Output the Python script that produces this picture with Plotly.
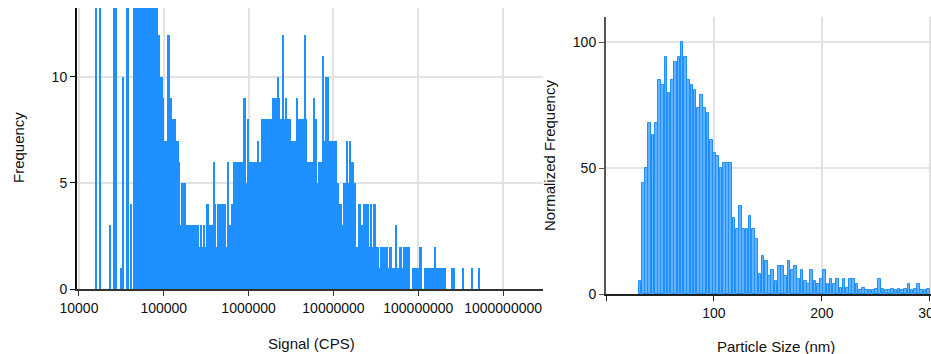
import math
import plotly.graph_objects as go

# ---------------- Left panel: signal histogram (log-binned) ----------------
SIGNAL_LOG_EDGE_START = 4.2        # log10(CPS) of the first bin's left edge
SIGNAL_LOG_BIN_WIDTH = 1 / 85      # bin width in decades
SIGNAL_COUNTS = [
    15, 0, 0, 0, 15, 0, 0, 0, 0, 0,
    0, 0, 0, 0, 3, 0, 0, 0, 15, 0,
    15, 0, 0, 0, 0, 1, 0, 10, 0, 0,
    0, 16, 14, 0, 0, 4, 0, 0, 16, 14,
    0, 18, 15, 3, 16, 14, 3, 20, 16, 17,
    4, 22, 18, 15, 5, 19, 4, 16, 20, 5,
    17, 14, 12, 12, 10, 8, 10, 9, 5, 7,
    7, 4, 12, 12, 9, 9, 8, 2, 8, 8,
    7, 7, 7, 6, 3, 3, 5, 5, 4, 5,
    1, 3, 3, 3, 1, 3, 3, 3, 3, 2,
    3, 2, 3, 2, 2, 3, 2, 2, 3, 2,
    2, 4, 4, 3, 3, 3, 2, 3, 6, 4,
    2, 2, 4, 4, 3, 4, 4, 3, 4, 4,
    2, 2, 6, 3, 3, 3, 4, 4, 6, 6,
    6, 6, 6, 6, 6, 6, 6, 6, 9, 9,
    5, 5, 8, 6, 6, 6, 6, 6, 6, 6,
    4, 6, 7, 6, 6, 6, 8, 8, 8, 7,
    8, 8, 7, 8, 8, 6, 8, 9, 9, 9,
    9, 9, 10, 9, 8, 5, 8, 12, 8, 8,
    9, 8, 8, 7, 8, 7, 7, 7, 7, 7,
    5, 9, 8, 8, 8, 8, 8, 8, 8, 12,
    8, 6, 6, 6, 6, 3, 6, 6, 9, 8,
    8, 5, 5, 6, 6, 5, 6, 11, 7, 7,
    10, 10, 10, 5, 7, 7, 4, 7, 7, 7,
    7, 5, 5, 4, 4, 4, 3, 3, 5, 5,
    4, 7, 5, 5, 7, 6, 6, 6, 5, 5,
    2, 1, 2, 4, 4, 1, 3, 3, 4, 4,
    1, 4, 4, 2, 2, 4, 2, 2, 4, 4,
    2, 2, 2, 1, 1, 2, 2, 2, 1, 2,
    2, 2, 1, 1, 2, 2, 1, 1, 1, 1,
    3, 1, 1, 1, 2, 2, 1, 0, 2, 2,
    1, 2, 2, 2, 0, 0, 0, 1, 1, 1,
    1, 1, 1, 1, 2, 2, 0, 0, 0, 1,
    1, 1, 1, 1, 1, 1, 1, 1, 1, 2,
    1, 1, 0, 1, 0, 1, 1, 0, 1, 1,
    0, 0, 0, 0, 0, 0, 1, 0, 1, 0,
    0, 0, 0, 0, 0, 0, 0, 1, 0, 0,
    0, 0, 0, 0, 0, 0, 1, 0, 0, 0,
    0, 0, 0, 1,
]
SIGNAL_TICK_VALUES = [10000, 100000, 1000000, 10000000, 100000000, 1000000000]
SIGNAL_TICK_LABELS = ["10000", "100000", "1000000", "10000000", "100000000", "1000000000"]
FREQ_TICKS = [0, 5, 10]

# ---------------- Right panel: particle size distribution ----------------
SIZE_BIN_START = 30     # nm
SIZE_BIN_WIDTH = 3      # nm
SIZE_NORM_FREQ = [
    5, 44, 50, 68, 63, 68, 85, 83, 94, 80,
    85, 92, 94, 100, 94, 85, 83, 81, 74, 79,
    74, 72, 61, 56, 55, 50, 52, 52, 52, 30,
    26, 35, 26, 26, 31, 26, 22, 8, 15, 13,
    7, 9.5, 5, 11, 11, 7, 13, 9.5, 11, 6,
    9.5, 5, 4, 9.5, 5, 4, 6, 9.5, 4, 6,
    4, 6, 2.5, 6, 2.5, 6, 6, 4, 1.5, 2.5,
    1.5, 1.5, 1.5, 2, 6, 2, 1.5, 1.5, 2, 1.5,
    2, 1.5, 2, 4, 1.5, 2, 4, 1.5, 1.5, 2,
]
SIZE_TICKS = [0, 100, 200, 300]
SIZE_TICK_LABELS = ["", "100", "200", "300"]
NORM_TICKS = [0, 50, 100]

W, H = 931, 354
BLUE = "#1E90FF"
GRID = "#e2e2e2"
FONT = "Liberation Sans, Arial, sans-serif"

sig_x = [SIGNAL_LOG_EDGE_START + (i + 0.5) * SIGNAL_LOG_BIN_WIDTH for i in range(len(SIGNAL_COUNTS))]
size_x = [SIZE_BIN_START + (i + 0.5) * SIZE_BIN_WIDTH for i in range(len(SIZE_NORM_FREQ))]

fig = go.Figure()
fig.add_trace(go.Bar(
    x=sig_x, y=SIGNAL_COUNTS, width=SIGNAL_LOG_BIN_WIDTH,
    marker=dict(color=BLUE, opacity=0.999, line=dict(width=0)),
    xaxis="x", yaxis="y", showlegend=False,
))
fig.add_trace(go.Bar(
    x=size_x, y=SIZE_NORM_FREQ, width=SIZE_BIN_WIDTH * 0.82,
    marker=dict(color="rgba(70,165,255,0.85)", line=dict(color=BLUE, width=1)),
    xaxis="x2", yaxis="y2", showlegend=False,
))

def px_x(p):
    return p / W

def px_y(p):
    return 1 - p / H

axis_common = dict(
    showgrid=True, gridcolor=GRID, gridwidth=1.5, zeroline=False,
    showline=True, ticks="outside", ticklen=5, automargin=False,
    tickfont=dict(family=FONT, size=14, color="#111"),
)

fig.update_layout(
    width=W, height=H,
    margin=dict(l=0, r=0, t=0, b=0, autoexpand=False),
    paper_bgcolor="white", plot_bgcolor="white",
    bargap=0, barmode="overlay",
    xaxis=dict(
        **axis_common,
        domain=[px_x(77), px_x(543)],
        range=[3.977, 9.47],
        tickvals=[math.log10(v) for v in SIGNAL_TICK_VALUES],
        ticktext=SIGNAL_TICK_LABELS,
        linecolor="#333", linewidth=2, tickcolor="#333",
        anchor="y",
    ),
    yaxis=dict(
        **axis_common,
        domain=[px_y(289), px_y(8)],
        range=[0, 13.25],
        tickvals=FREQ_TICKS,
        linecolor="#111", linewidth=2, tickcolor="#111",
        anchor="x",
    ),
    xaxis2=dict(
        **axis_common,
        domain=[px_x(606), 1.0],
        range=[0, 301],
        tickvals=SIZE_TICKS, ticktext=SIZE_TICK_LABELS,
        ticklabeloverflow="allow",
        linecolor="#222", linewidth=2, tickcolor="#222",
        anchor="y2",
    ),
    yaxis2=dict(
        **axis_common,
        domain=[px_y(294), px_y(17)],
        range=[0, 110],
        tickvals=NORM_TICKS,
        linecolor="#555", linewidth=2, tickcolor="#555",
        anchor="x2",
    ),
)

title_font = dict(family=FONT, size=15, color="#111")
annos = [
    dict(text="Frequency", x=px_x(19), y=px_y(148), textangle=-90),
    dict(text="Signal (CPS)", x=px_x(311), y=px_y(343)),
    dict(text="Normalized Frequency", x=px_x(550), y=px_y(156), textangle=-90),
    dict(text="Particle Size (nm)", x=px_x(776), y=px_y(346)),
]
for a in annos:
    fig.add_annotation(xref="paper", yref="paper", showarrow=False,
                       xanchor="center", yanchor="middle", font=title_font, **a)

fig.write_html(
    "out.html",
    config={"displayModeBar": False},
    post_script="document.body.style.margin='0';document.body.style.overflow='hidden';",
)
